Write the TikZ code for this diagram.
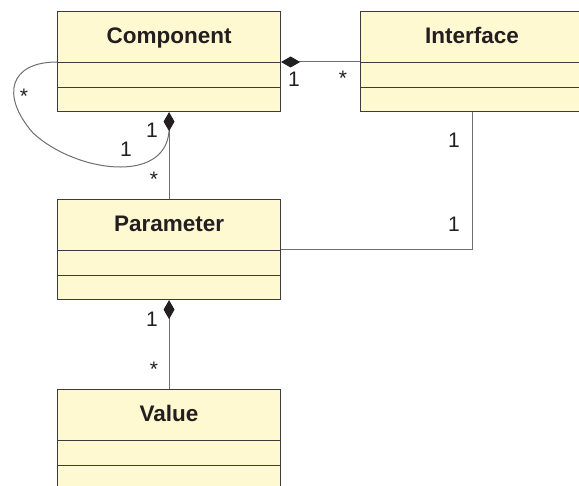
\documentclass[tikz,border=0pt]{standalone}
\usepackage{fontspec}
\setmainfont{Liberation Sans}
\usetikzlibrary{arrows.meta,calc}
\definecolor{boxfill}{HTML}{FFF9D2}
\definecolor{boxline}{HTML}{3C3C3C}
\definecolor{connline}{HTML}{6E6E6E}
\definecolor{ink}{HTML}{231F20}
\begin{document}
\begin{tikzpicture}[x=1pt,y=-1pt,
  classbox/.style={rectangle,draw=boxline,fill=boxfill,line width=1.1pt,minimum width=223pt,minimum height=100pt,inner sep=0pt,anchor=north west},
  sepline/.style={draw=boxline,line width=0.9pt},
  title/.style={font=\fontsize{22.5}{24}\selectfont\bfseries,text=ink,anchor=base,inner sep=0pt},
  conn/.style={draw=connline,line width=1pt},
  diamondstart/.style={{Diamond[length=19pt,width=11pt,color=ink]}-},
  mult/.style={font=\fontsize{21}{23}\selectfont,text=ink,anchor=base,inner sep=0pt}]
\useasboundingbox (0,0) rectangle (579,486);
% classes
\node[classbox] (comp) at (57,11) {};
\node[classbox] (iface) at (360,11) {};
\node[classbox] (param) at (57,199) {};
\node[classbox] (value) at (57,389) {};
\foreach \b in {comp,iface,param,value}{
  \draw[sepline] ($(\b.north west)+(0,51)$) -- ($(\b.north east)+(0,51)$);
  \draw[sepline] ($(\b.north west)+(0,76)$) -- ($(\b.north east)+(0,76)$);
}
\node[title] (compT) at ($(comp.north)+(0,32.5)$) {Component};
\node[title] (ifaceT) at ($(iface.north)+(0,32.5)$) {Interface};
\node[title] (paramT) at ($(param.north)+(0,32.5)$) {Parameter};
\node[title] (valueT) at ($(value.north)+(0,32.5)$) {Value};
% anchor points
\coordinate (compR) at ($(comp.north east)+(0,51)$);
\coordinate (compL) at ($(comp.north west)+(0,51)$);
\coordinate (ifaceL) at ($(iface.north west)+(0,51)$);
\coordinate (paramR) at ($(param.north east)+(0,51)$);
\coordinate (compDia) at ($(comp.south)+(0,19)$);
% connectors
\draw[conn,diamondstart] (compR) -- (ifaceL);
\draw[conn,diamondstart] (comp.south) -- (param.north);
\draw[conn,diamondstart] (param.south) -- (value.north);
\draw[conn] (iface.south) |- (paramR);
\draw[conn] (compL) .. controls (10,62) and (0,95) .. (33,133)
                    .. controls (75,172) and (165,185) .. (compDia);
% multiplicities
\node[mult] (m1) at (294,87) {1};
\node[mult] (m2) at (343,86) {*};
\node[mult] (m3) at (24,104) {*};
\node[mult] (m4) at (126,157) {1};
\node[mult] (m5) at (152,138) {1};
\node[mult] (m6) at (154,187) {*};
\node[mult] (m7) at (454,148) {1};
\node[mult] (m8) at (454,232) {1};
\node[mult] (m9) at (152,327) {1};
\node[mult] (m10) at (154,377) {*};
\end{tikzpicture}
\end{document}
